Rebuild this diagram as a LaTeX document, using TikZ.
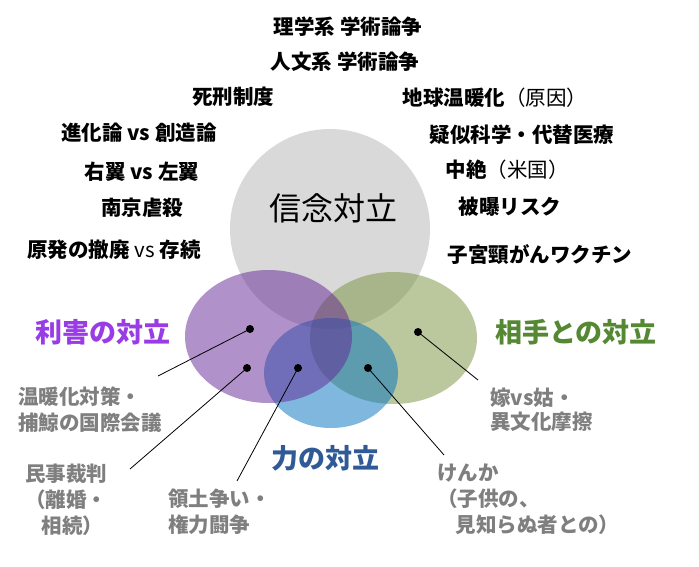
\documentclass[tikz,border=0pt]{standalone}
\usepackage{fontspec}
\setmainfont{Noto Sans CJK JP}
\begin{document}
\begin{tikzpicture}[x=1pt,y=-1pt,
  blk/.style={inner sep=0pt,font=\fontsize{20.5pt}{26pt}\selectfont\bfseries,text=black},
  glabel/.style={inner sep=0pt,anchor=north west,align=left,font=\fontsize{20.5pt}{26pt}\selectfont\bfseries,text=labgray},
  title/.style={inner sep=0pt,font=\fontsize{27pt}{32pt}\selectfont\bfseries},
  dot/.style={circle,fill=black,inner sep=0pt,minimum size=8pt},
  conn/.style={black,line width=0.8pt}]
\definecolor{circgray}{HTML}{D9D9D9}
\definecolor{ellgreen}{HTML}{79913D}
\definecolor{ellblue}{HTML}{0070C0}
\definecolor{ellpurple}{HTML}{632595}
\definecolor{labgray}{HTML}{7F7F7F}
\definecolor{tpurple}{HTML}{9A3CE6}
\definecolor{tgreen}{HTML}{558833}
\definecolor{tblue}{HTML}{2F5A96}
\useasboundingbox (0,0) rectangle (699,566);
\fill[white] (0,0) rectangle (699,566);
% circles
\fill[circgray] (330,229) circle[radius=100pt];
\fill[ellgreen,fill opacity=0.5] (393.5,338) ellipse[x radius=83.5pt,y radius=66pt];
\fill[ellblue,fill opacity=0.5] (331,373) ellipse[x radius=67pt,y radius=55pt];
\fill[ellpurple,fill opacity=0.5] (268.5,336.5) ellipse[x radius=83.5pt,y radius=66.5pt];
% central title
\node[inner sep=0pt,font=\fontsize{32pt}{36pt}\selectfont] (belief) at (333,208) {信念対立};
% top texts
\node[blk] (t1) at (348,27) {理学系 学術論争};
\node[blk] (t2) at (345,62) {人文系 学術論争};
\node[blk] (t3) at (233,97) {死刑制度};
\node[blk] (t4) at (139,133) {進化論 vs 創造論};
\node[blk] (t5) at (142,172) {右翼 vs 左翼};
\node[blk] (t6) at (142,208) {南京虐殺};
\node[blk] (t7) at (114,250) {原発の撤廃 {\mdseries vs} 存続};
\node[blk] (t8) at (495,98) {地球温暖化{\mdseries（原因）}};
\node[blk] (t9) at (522,135) {疑似科学・代替医療};
\node[blk] (t10) at (507,170) {中絶{\mdseries（米国）}};
\node[blk] (t11) at (510,207) {被曝リスク};
\node[blk] (t12) at (540,255) {子宮頸がんワクチン};
% category titles
\node[title,text=tpurple] (interest) at (103,332) {利害の対立};
\node[title,text=tgreen] (partner) at (576,332) {相手との対立};
\node[title,text=tblue] (power) at (325,458) {力の対立};
% dots
\node[dot] (d1) at (250,329) {};
\node[dot] (d2) at (247,368) {};
\node[dot] (d3) at (298,368) {};
\node[dot] (d4) at (368,368) {};
\node[dot] (d5) at (418,332) {};
% connector ends
\coordinate (e1) at (158,376);
\coordinate (e2) at (130,469);
\coordinate (e3) at (237,481);
\coordinate (e4) at (444,455);
\coordinate (e5) at (478,380);
\draw[conn] (d1.center) -- (e1);
\draw[conn] (d2.center) -- (e2);
\draw[conn] (d3.center) -- (e3);
\draw[conn] (d4.center) -- (e4);
\draw[conn] (d5.center) -- (e5);
% gray labels
\node[glabel] (l1) at (18,386.4) {温暖化対策・\\捕鯨の国際会議};
\node[glabel] (l2) at (25,463.4) {民事裁判\\（離婚・\\\hspace*{0.8em}相続）};
\node[glabel] (l3) at (168,488.4) {領土争い・\\権力闘争};
\node[glabel,font=\fontsize{20.5pt}{24pt}\selectfont\bfseries] (l4) at (490,387.4) {嫁vs姑・\\異文化摩擦};
\node[glabel] (l5) at (437,463.4) {けんか\\（子供の、\\\hspace*{0.9em}見知らぬ者との）};
\end{tikzpicture}
\end{document}
